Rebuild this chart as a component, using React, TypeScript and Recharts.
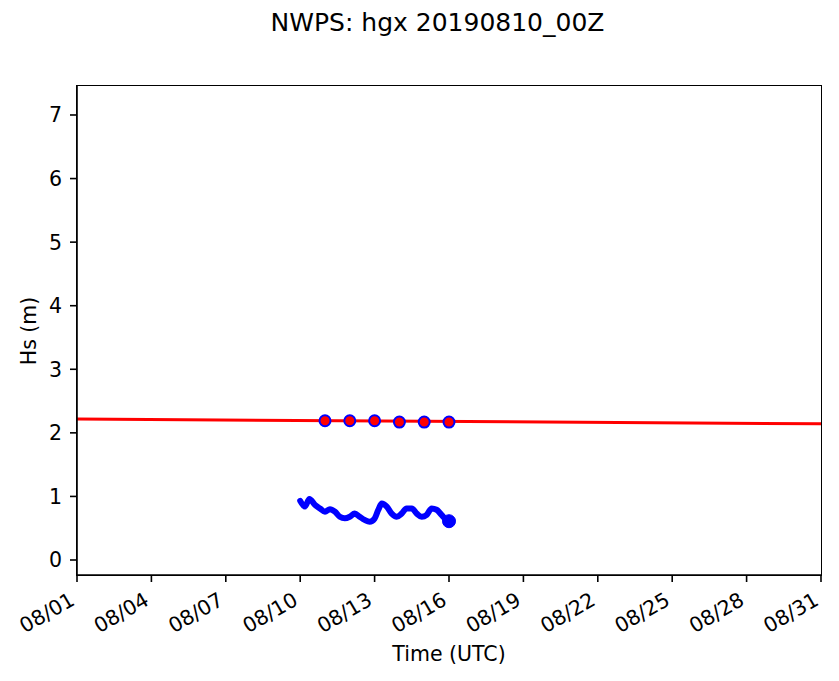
import { ComposedChart, Line, XAxis, YAxis } from "recharts";

// x values are days of August 2019 (10.5 = 08/10 12Z)
const TICK_DAYS = [1, 4, 7, 10, 13, 16, 19, 22, 25, 28, 31];
const HS_TICKS = [0, 1, 2, 3, 4, 5, 6, 7];

// red reference line across the whole month
const REF_DAYS = [1, 31];
const REF_HS = [2.217, 2.143];

// red markers (blue edge), daily
const MARK_DAYS = [11, 12, 13, 14, 15, 16];
const MARK_HS = [2.19, 2.19, 2.19, 2.17, 2.17, 2.17];

// thick blue series
const OBS_DAYS = [10.0, 10.19, 10.37, 10.6, 10.8, 11.0, 11.2, 11.4, 11.6, 11.8, 12.0, 12.2, 12.4, 12.6, 12.8, 13.0, 13.15, 13.29, 13.49, 13.69, 13.89, 14.09, 14.29, 14.5, 14.7, 14.9, 15.1, 15.3, 15.5, 15.7, 15.9, 16.0];
const OBS_HS = [0.93, 0.84, 0.96, 0.865, 0.81, 0.76, 0.8, 0.76, 0.68, 0.655, 0.68, 0.73, 0.68, 0.63, 0.6, 0.65, 0.79, 0.89, 0.84, 0.73, 0.68, 0.73, 0.81, 0.81, 0.73, 0.68, 0.71, 0.81, 0.79, 0.71, 0.63, 0.61];

const refData = REF_DAYS.map((d, i) => ({ day: d, hs: REF_HS[i] }));
const markData = MARK_DAYS.map((d, i) => ({ day: d, hs: MARK_HS[i] }));
const obsData = OBS_DAYS.map((d, i) => ({ day: d, hs: OBS_HS[i] }));
const obsEnd = obsData.slice(-1);

const FONT = "'DejaVu Sans', sans-serif";

const XTick = (props: any) => {
  const { x, payload } = props;
  const label = "08/" + String(payload.value).padStart(2, "0");
  const ax = x - 1;
  const ay = 604;
  return (
    <text x={ax} y={ay} textAnchor="end" fontSize={20.5} fontFamily={FONT} fill="#000" transform={`rotate(-30 ${ax} ${ay})`}>
      {label}
    </text>
  );
};

const YTick = (props: any) => {
  const { y, payload } = props;
  return (
    <text x={62} y={y} dy="0.36em" textAnchor="end" fontSize={20.5} fontFamily={FONT} fill="#000">
      {payload.value}
    </text>
  );
};

export default function App() {
  return (
    <div style={{ position: "absolute", left: 0, top: 0, width: 839, height: 681, background: "#fff", fontFamily: FONT }}>
      <ComposedChart width={839} height={681} margin={{ top: 86, right: 18, bottom: 46, left: 17 }}>
        <XAxis dataKey="day" type="number" domain={[1, 31]} ticks={TICK_DAYS} allowDataOverflow height={60}
          tick={<XTick />} tickSize={7} tickLine={{ stroke: "#000", strokeWidth: 1.6 }} axisLine={{ stroke: "#000", strokeWidth: 1.6 }} />
        <YAxis type="number" domain={[-0.236, 7.456]} ticks={HS_TICKS} allowDataOverflow width={60}
          tick={<YTick />} tickSize={7} tickLine={{ stroke: "#000", strokeWidth: 1.6 }} axisLine={{ stroke: "#000", strokeWidth: 1.6 }} />
        <Line data={refData} dataKey="hs" type="linear" stroke="#ff0000" strokeWidth={3} dot={false} activeDot={false} isAnimationActive={false} />
        <Line data={markData} dataKey="hs" type="linear" stroke="none" dot={{ r: 5.5, fill: "#ff0000", stroke: "#0000ff", strokeWidth: 2 }} activeDot={false} isAnimationActive={false} />
        <Line data={obsData} dataKey="hs" type="monotone" stroke="#0000ff" strokeWidth={6} strokeLinejoin="round" strokeLinecap="round" dot={false} activeDot={false} isAnimationActive={false} />
        <Line data={obsEnd} dataKey="hs" stroke="none" dot={{ r: 6.5, fill: "#0000ff", stroke: "#0000ff", strokeWidth: 1 }} activeDot={false} isAnimationActive={false} />
      </ComposedChart>
      {/* top and right spines */}
      <div style={{ position: "absolute", left: 76.2, top: 85.2, width: 745.6, height: 490.6, border: "1.6px solid #000", boxSizing: "border-box", pointerEvents: "none" }} />
      <div style={{ position: "absolute", left: 437.5, top: 8, transform: "translateX(-50%)", fontSize: 25, whiteSpace: "nowrap", color: "#000" }}>
        NWPS: hgx 20190810_00Z
      </div>
      <div style={{ position: "absolute", left: 449, top: 642, transform: "translateX(-50%)", fontSize: 20.5, whiteSpace: "nowrap", color: "#000" }}>
        Time (UTC)
      </div>
      <div style={{ position: "absolute", left: 29, top: 331, transform: "translate(-50%, -50%) rotate(-90deg)", fontSize: 20.5, whiteSpace: "nowrap", color: "#000" }}>
        Hs (m)
      </div>
    </div>
  );
}
